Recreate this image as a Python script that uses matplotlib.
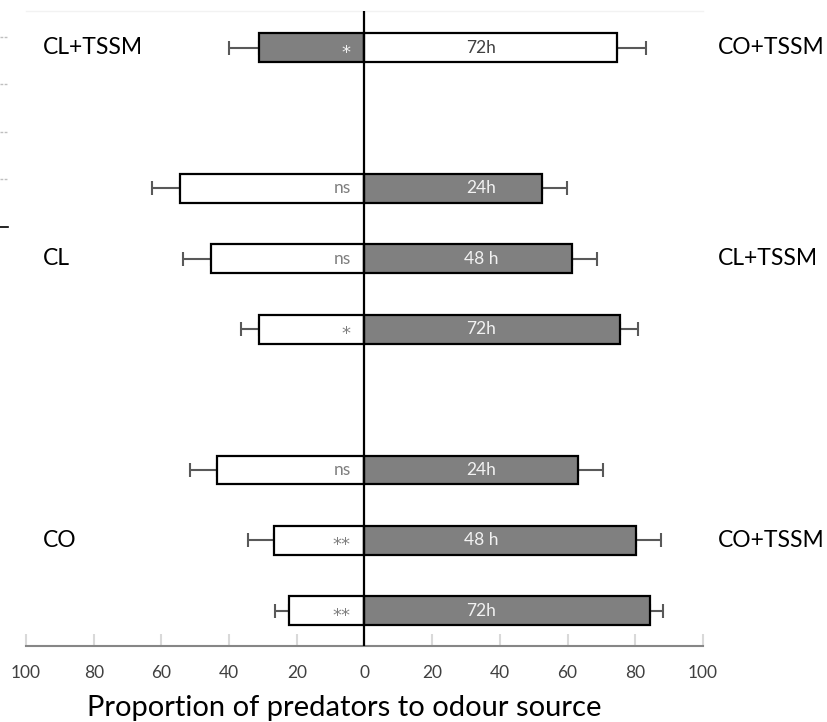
import matplotlib
matplotlib.use('Agg')
import matplotlib.pyplot as plt
from matplotlib.lines import Line2D
import numpy as np

plt.rcParams['font.family'] = ['Lato', 'DejaVu Sans']

# rows, top to bottom (row slots 1 and 5 are empty gaps)
row_pos = [0, 2, 3, 4, 6, 7, 8]
hours = ['72h', '24h', '48 h', '72h', '24h', '48 h', '72h']
left_vals = [31.3, 54.4, 45.3, 31.2, 43.6, 26.8, 22.4]
left_err = [8.6, 8.5, 8.3, 5.4, 7.9, 7.6, 4.0]
right_vals = [74.7, 52.5, 61.4, 75.6, 63.1, 80.1, 84.3]
right_err = [8.4, 7.4, 7.4, 5.2, 7.4, 7.5, 4.0]
signif = ['*', 'ns', 'ns', '*', 'ns', '**', '**']
left_dark = [True, False, False, False, False, False, False]

left_groups = ['CL+TSSM', 'CL', 'CO']
right_groups = ['CO+TSSM', 'CL+TSSM', 'CO+TSSM']
group_rows = [0, 3, 7]

ticks = [-100, -80, -60, -40, -20, 0, 20, 40, 60, 80, 100]

DARK = '#808080'
ERR = '#595959'

fig = plt.figure(figsize=(8.28, 7.22), dpi=100)
ax = fig.add_axes([0.0314, 0.1053, 0.8176, 0.8795])

for i, y in enumerate(row_pos):
    lc = DARK if left_dark[i] else 'white'
    rc = 'white' if left_dark[i] else DARK
    ax.barh(y, -left_vals[i], height=0.41, color=lc, edgecolor='black', linewidth=1.6, zorder=2)
    ax.barh(y, right_vals[i], height=0.41, color=rc, edgecolor='black', linewidth=1.6, zorder=2)
    ax.errorbar(-left_vals[i], y, xerr=[[left_err[i]], [0]], fmt='none', ecolor=ERR,
                elinewidth=1.5, capsize=5, capthick=1.5, zorder=1)
    ax.errorbar(right_vals[i], y, xerr=[[0], [right_err[i]]], fmt='none', ecolor=ERR,
                elinewidth=1.5, capsize=5, capthick=1.5, zorder=1)
    sc = '#f2f2f2' if left_dark[i] else '#7f7f7f'
    if '*' in signif[i]:
        ax.text(-4, y + 0.07, signif[i], ha='right', va='center', fontsize=13, color=sc,
                family='DejaVu Sans', zorder=3)
    else:
        ax.text(-4, y, signif[i], ha='right', va='center', fontsize=12.5, color=sc, zorder=3)
    hc = '#404040' if left_dark[i] else '#f2f2f2'
    ax.text(34.5, y, hours[i], ha='center', va='center', fontsize=12.5, color=hc, zorder=3)

for lab, rl, r in zip(left_groups, right_groups, group_rows):
    ax.text(-95, r, lab, ha='left', va='center', fontsize=16.5, color='black')
    ax.text(104.5, r, rl, ha='left', va='center', fontsize=16.5, color='black', clip_on=False)

ax.axvline(0, color='black', linewidth=1.6, zorder=4)

ax.set_xlim(-100, 100)
ax.set_ylim(8.5, -0.52)
ax.set_yticks([])
ax.set_xticks(ticks)
ax.set_xticklabels([str(abs(t)) for t in ticks], fontsize=12.5, color='#404040')
ax.tick_params(axis='x', direction='in', length=9, width=1.5, color='#d9d9d9', pad=14)
for s in ['left', 'right']:
    ax.spines[s].set_visible(False)
ax.spines['top'].set_color('#f2f2f2')
ax.spines['top'].set_linewidth(1)
ax.spines['bottom'].set_color('#868686')
ax.spines['bottom'].set_linewidth(1.5)

fig.text(344 / 828, 1 - 708 / 722, 'Proportion of predators to odour source',
         ha='center', va='center', fontsize=21, color='black')

# stray tick marks from the neighbouring panel at the left edge
for yy in [37, 84, 132, 179]:
    fig.add_artist(Line2D([0, 7 / 828], [1 - yy / 722] * 2, color='#bfbfbf', linewidth=1,
                          linestyle=(0, (2, 1))))
fig.add_artist(Line2D([0, 8 / 828], [1 - 227 / 722] * 2, color='black', linewidth=1.2))

fig.savefig('out.png', dpi=100)
